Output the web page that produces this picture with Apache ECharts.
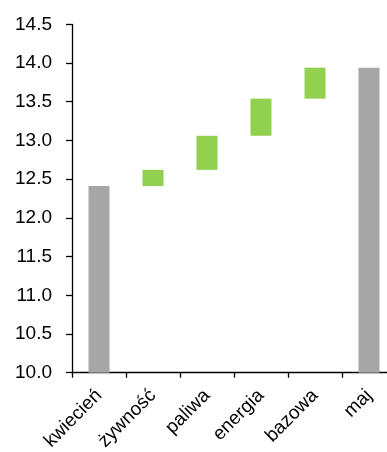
<!DOCTYPE html>
<html>
<head>
<meta charset="utf-8">
<script src="https://cdn.jsdelivr.net/npm/echarts@6/dist/echarts.min.js"></script>
<style>
  html, body { margin: 0; padding: 0; background: #ffffff; }
  #chart { width: 387px; height: 452px; }
</style>
</head>
<body>
<div id="chart"></div>
<script>
// Inflation waterfall: April level, contributions, May level
const categories = ['kwiecień', 'żywność', 'paliwa', 'energia', 'bazowa', 'maj'];
const totals = [12.41, 0, 0, 0, 0, 13.94];
const baseline = ['-', 12.41, 12.62, 13.06, 13.54, '-'];
const contributions = ['-', 0.21, 0.44, 0.48, 0.40, '-'];
const yTicks = { min: 10, max: 14.5, step: 0.5 };

const font = 'Liberation Sans, Arial, sans-serif';
const chart = echarts.init(document.getElementById('chart'));

chart.setOption({
  animation: false,
  backgroundColor: '#ffffff',
  // plot area runs a little past the right edge of the canvas
  grid: {
    left: 72, width: 324, top: 24.3, height: 348.4,
    containLabel: false, outerBoundsMode: 'none'
  },
  xAxis: {
    type: 'category',
    data: categories,
    axisLine: { lineStyle: { color: '#000', width: 1.3 } },
    axisTick: { show: true, length: 5, lineStyle: { color: '#000', width: 1.3 } },
    axisLabel: {
      rotate: 45, margin: 20, color: '#000', fontSize: 19, fontFamily: font, interval: 0
    },
    splitLine: { show: false }
  },
  yAxis: {
    type: 'value',
    min: yTicks.min, max: yTicks.max, interval: yTicks.step,
    axisLine: { show: true, lineStyle: { color: '#000', width: 1.3 } },
    axisTick: { show: true, length: 6, lineStyle: { color: '#000', width: 1.3 } },
    axisLabel: {
      color: '#000', fontSize: 19, fontFamily: font, margin: 20,
      formatter: v => v.toFixed(1)
    },
    splitLine: { show: false }
  },
  series: [
    {
      name: 'poziom', type: 'bar', data: totals, barWidth: 21,
      itemStyle: { color: '#a6a6a6' }
    },
    {
      name: 'baza', type: 'bar', stack: 'wkład', data: baseline, barWidth: 21,
      barGap: '-100%',
      itemStyle: { color: 'rgba(0,0,0,0)' }
    },
    {
      name: 'wkład', type: 'bar', stack: 'wkład', data: contributions, barWidth: 21,
      itemStyle: { color: '#92d050' }
    }
  ]
});
</script>
</body>
</html>
